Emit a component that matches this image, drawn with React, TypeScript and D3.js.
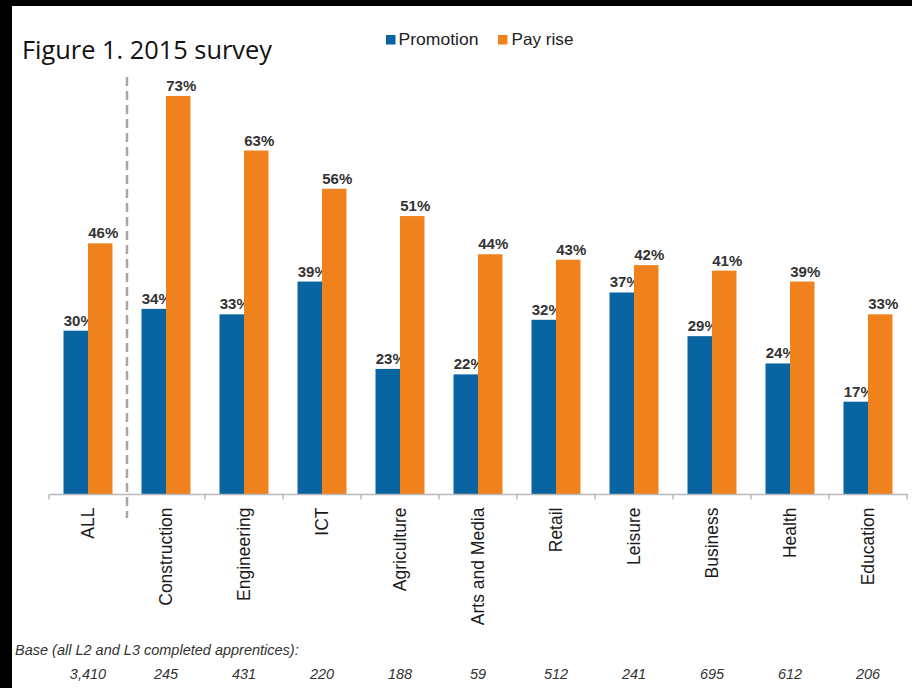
import React from "react";
import * as d3 from "d3";

const categories = ["ALL", "Construction", "Engineering", "ICT", "Agriculture", "Arts and Media", "Retail", "Leisure", "Business", "Health", "Education"];
const promotion = [30, 34, 33, 39, 23, 22, 32, 37, 29, 24, 17];
const payRise = [46, 73, 63, 56, 51, 44, 43, 42, 41, 39, 33];
const baseCounts = ["3,410", "245", "431", "220", "188", "59", "512", "241", "695", "612", "206"];
const seriesNames = ["Promotion", "Pay rise"];
const colors = ["#0865a1", "#f0821d"];

export default function App() {
  const W = 912, H = 688;
  const axisY = 494.5;
  const x = d3.scaleBand<string>().domain(categories).range([49, 907]).paddingInner(0.372).paddingOuter(0.186);
  const step = x.step();
  const xs = d3.scaleBand<string>().domain(seriesNames).range([0, x.bandwidth()]);
  const y = d3.scaleLinear().domain([0, 80]).range([axisY, axisY - 80 * 5.46]);
  const series = [promotion, payRise];
  const boundaries = d3.range(categories.length + 1).map((i) => 49 + i * step);

  return (
    <svg width={W} height={H} style={{ position: "absolute", left: 0, top: 0, background: "#fff" }} fontFamily="Arial, 'Liberation Sans', sans-serif">
      <rect x={0} y={0} width={W} height={H} fill="#fff" />
      <rect x={0} y={0} width={W} height={6} fill="#000" />
      <rect x={0} y={0} width={12} height={H} fill="#000" />
      <text x={22} y={59} fontFamily="'Open Sans', sans-serif" fontSize={26} fill="#111" textLength={250} lengthAdjust="spacingAndGlyphs">Figure 1. 2015 survey</text>
      {seriesNames.map((s, i) => (
        <g key={s}>
          <rect x={i === 0 ? 386 : 498} y={35} width={9.5} height={9.5} fill={colors[i]} />
          <text x={i === 0 ? 398.5 : 511.5} y={45} fontSize={16.5} fill="#222" textLength={i === 0 ? 80 : 62} lengthAdjust="spacingAndGlyphs">{s}</text>
        </g>
      ))}
      {categories.map((c, ci) => (
        <g key={c}>
          {series.map((vals, si) => {
            const bx = (x(c) as number) + (xs(seriesNames[si]) as number);
            const bw = xs.bandwidth();
            const v = vals[ci];
            return (
              <g key={si}>
                <rect x={bx} y={y(v)} width={bw} height={axisY - y(v)} fill={colors[si]} />
                <text x={bx + bw / 2 + 3} y={y(v) - 5} textAnchor="middle" fontSize={15} fontWeight="bold" fill="#333">{v}%</text>
              </g>
            );
          })}
          <text transform={`translate(${(x(c) as number) + x.bandwidth() / 2},507.5) rotate(-90)`} textAnchor="end" dy="0.35em" fontSize={17.5} fill="#1a1a1a">{c}</text>
          <text x={(x(c) as number) + x.bandwidth() / 2} y={679} textAnchor="middle" fontSize={14.5} fontStyle="italic" fill="#333">{baseCounts[ci]}</text>
        </g>
      ))}
      <line x1={49} x2={908} y1={axisY} y2={axisY} stroke="#b8b8b8" strokeWidth={1.5} />
      {boundaries.map((bx, i) => i === 1 ? null : (
        <line key={i} x1={bx} x2={bx} y1={axisY} y2={axisY + 5} stroke="#b8b8b8" strokeWidth={1.5} />
      ))}
      <line x1={boundaries[1]} x2={boundaries[1]} y1={77} y2={518} stroke="#a6a6a6" strokeWidth={2.5} strokeDasharray="9,5" />
      <text x={15} y={655} fontSize={14.5} fontStyle="italic" fill="#333">Base (all L2 and L3 completed apprentices):</text>
    </svg>
  );
}
